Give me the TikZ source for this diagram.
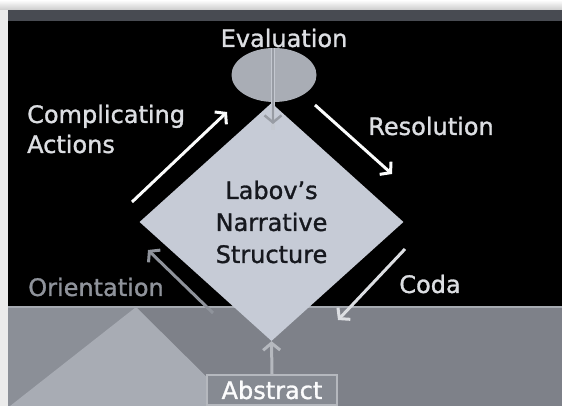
\documentclass[tikz,border=0pt]{standalone}
\usepackage{fontspec}
\setmainfont{DejaVu Sans}[UprightFeatures={FakeBold=1.2}]
\usetikzlibrary{shapes.geometric,arrows.meta}
\definecolor{bandgrey}{HTML}{484B52}
\definecolor{margin}{HTML}{E2E2E2}
\definecolor{lowdark}{HTML}{7E8189}
\definecolor{lowmid}{HTML}{8B8F97}
\definecolor{lowlight}{HTML}{A8ACB4}
\definecolor{lowline}{HTML}{A6AAB1}
\definecolor{diamondfill}{HTML}{C6CBD6}
\definecolor{ellfill}{HTML}{A9ADB5}
\definecolor{lbl}{HTML}{DCDEE2}
\definecolor{orient}{HTML}{8F939B}
\definecolor{darktxt}{HTML}{16181E}
\definecolor{absfill}{HTML}{868A92}
\definecolor{absline}{HTML}{B5B8BE}
\definecolor{evalarrow}{HTML}{989CA4}
\definecolor{evaledge}{HTML}{C4C8D0}
\tikzset{
  lbltext/.style={text=lbl, font=\fontsize{24}{30}\selectfont, inner sep=0pt},
  flow/.style={line width=3pt, -{Straight Barb[length=7pt,width=17pt]}},
}
\begin{document}
\begin{tikzpicture}[x=1pt,y=-1pt]
\useasboundingbox (0,0) rectangle (562,406);
% margins
\fill[top color=white,bottom color=margin!90!black] (0,0) rectangle (562,10);
\fill[white!92!black] (0,10) rectangle (8,406);
% top band and black area
\fill[bandgrey] (8,10) rectangle (562,21);
\fill[black] (8,21) rectangle (562,307);
% bottom band
\fill[lowdark] (8,307) rectangle (562,406);
\fill[lowmid] (8,307) -- (136,307) -- (10,406) -- (8,406) -- cycle;
\fill[lowlight] (136,307) -- (236,406) -- (10,406) -- cycle;
\draw[lowline, line width=2pt] (8,307) -- (562,307);

% diamond
\node (dia) [diamond, fill=diamondfill, minimum width=264pt, minimum height=238pt,
  inner sep=0pt, text=darktxt, align=center,
  font=\fontsize{24}{32}\selectfont] at (271.5,222) {Labov’s\\Narrative\\Structure};

% ellipse
\node (eval) [ellipse, fill=ellfill, minimum width=85pt, minimum height=54pt, inner sep=0pt] at (274,75) {};

% labels
\node (tEval) [lbltext] at (284,38) {Evaluation};
\node (tComp) [lbltext, anchor=west, align=left] at (27,129) {Complicating\\Actions};
\node (tRes) [lbltext] at (431,126) {Resolution};
\node (tCoda) [lbltext] at (430,284) {Coda};
\node (tOri) [lbltext, text=orient] at (96,287) {Orientation};

% abstract box
\node (abs) [fill=absfill, draw=absline, line width=1.5pt, minimum width=130pt,
  minimum height=30pt, inner sep=0pt, text=white!92!lbl,
  font=\fontsize{24}{30}\selectfont] at (272,390) {Abstract};

% connector coordinates
\coordinate (evalend) at (273,124);
\coordinate (compA) at (132,202);
\coordinate (compB) at (227,112);
\coordinate (resA) at (315,105);
\coordinate (resB) at (392,174);
\coordinate (codaA) at (405,249);
\coordinate (codaB) at (338,320);
\coordinate (oriA) at (213,313);
\coordinate (oriB) at (148,250);

% arrows
\draw[evaledge, line width=4.5pt] (eval.north -| evalend) -- ([yshift=-6pt]evalend);
\draw[flow, evalarrow, line width=2.5pt] (eval.north -| evalend) -- (evalend);
\draw[flow, white!90!lbl] (compA) -- (compB);
\draw[flow, white!90!lbl] (resA) -- (resB);
\draw[flow, lbl] (codaA) -- (codaB);
\draw[flow, orient] (oriA) -- (oriB);
\draw[flow, absline] (abs.north) -- (dia.south);
\end{tikzpicture}
\end{document}
